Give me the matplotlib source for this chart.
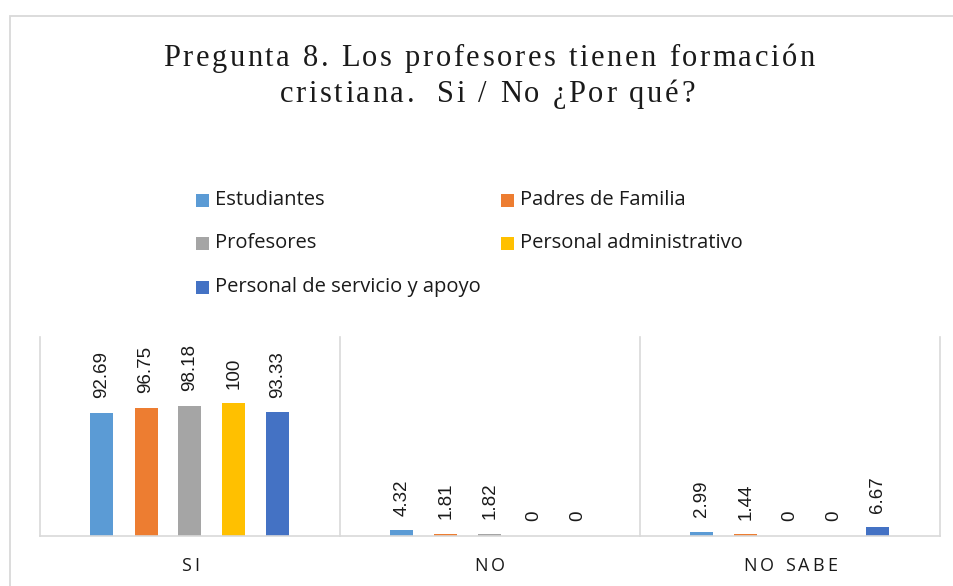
import matplotlib
matplotlib.use('Agg')
import matplotlib.pyplot as plt
from matplotlib.font_manager import FontProperties
from matplotlib.patches import Rectangle
import numpy as np

# ---------------- data ----------------
categories = ['SI', 'NO', 'NO SABE']
series_names = ['Estudiantes', 'Padres de Familia', 'Profesores',
                'Personal administrativo', 'Personal de servicio y apoyo']
estudiantes = [92.69, 4.32, 2.99]
padres = [96.75, 1.81, 1.44]
profesores = [98.18, 1.82, 0]
administrativo = [100, 0, 0]
servicio = [93.33, 0, 6.67]
series_values = [estudiantes, padres, profesores, administrativo, servicio]
colors = ['#5B9BD5', '#ED7D31', '#A5A5A5', '#FFC000', '#4472C4']
title_lines = ['Pregunta 8. Los profesores tienen formación',
               'cristiana.  Si / No ¿Por qué?']

W, H = 954, 586
fig = plt.figure(figsize=(W / 100, H / 100), dpi=100)
renderer = fig.canvas.get_renderer()

grid_col = '#D9D9D9'
text_col = '#1A1A1A'


def adv(c, prop):
    w1 = renderer.get_text_width_height_descent('|' + c + '|', prop, ismath=False)[0]
    w0 = renderer.get_text_width_height_descent('||', prop, ismath=False)[0]
    return w1 - w0


def tracked(xc, yb, text, prop, tracking, color):
    advs = [adv(c, prop) for c in text]
    total = sum(advs) + tracking * (len(text) - 1)
    x = xc - total / 2
    for c, a in zip(text, advs):
        if c != ' ':
            fig.text(x / W, 1 - yb / H, c, fontproperties=prop, ha='left',
                     va='baseline', color=color)
        x += a + tracking


# border
fig.add_artist(Rectangle((10 / W, -0.1), 1.2, 1 - 16 / H + 0.1, fill=False,
                         edgecolor=grid_col, lw=1.3, transform=fig.transFigure))

# title
tprop = FontProperties(family='Liberation Serif', size=22)
n1 = len(title_lines[0])
track = (652 - sum(adv(c, tprop) for c in title_lines[0])) / (n1 - 1)
tracked(489, 66, title_lines[0], tprop, track, text_col)
tracked(487, 102, title_lines[1], tprop, track, text_col)

# legend
lprop = FontProperties(family='Open Sans', size=14.5)
col_x = [196, 501]
row_y = [200, 243, 287]
for i, (name, c) in enumerate(zip(series_names, colors)):
    cx = col_x[i % 2]
    cy = row_y[i // 2]
    fig.add_artist(Rectangle((cx / W, 1 - (cy + 6.5) / H), 13 / W, 13 / H,
                             facecolor=c, edgecolor='none', transform=fig.transFigure))
    fig.text((cx + 19) / W, 1 - cy / H, name, fontproperties=lprop,
             ha='left', va='center', color=text_col)

# axes
ax = fig.add_axes([40 / W, 1 - 536 / H, 900 / W, 199 / H])
ax.set_xlim(-0.5, len(categories) - 0.5)
ax.set_ylim(0, 150)
for s in ['left', 'right', 'top']:
    ax.spines[s].set_visible(False)
ax.spines['bottom'].set_color(grid_col)
ax.spines['bottom'].set_linewidth(1.2)
ax.set_yticks([])
ax.set_xticks(range(len(categories)))
ax.set_xticklabels([])
ax.tick_params(axis='x', length=0)
for b in np.arange(-0.5, len(categories), 1.0):
    ax.axvline(b, color=grid_col, lw=1.2, clip_on=False, zorder=0)

slot = 44 / 300
bw = 23 / 300
x = np.arange(len(categories))
vprop = FontProperties(family='Liberation Sans', size=13.5)
for i, (vals, c) in enumerate(zip(series_values, colors)):
    xs = x + (i - 2) * slot
    ax.bar(xs, vals, bw, color=c, zorder=2)
    for xx, v in zip(xs, vals):
        ax.annotate(f'{v:g}', (xx, v), xytext=(0, 10.5), textcoords='offset points',
                    rotation=90, ha='center', va='bottom', fontproperties=vprop,
                    color=text_col)

# category labels
cprop = FontProperties(family='Open Sans', size=13)
ctrack = (94 - sum(adv(c, cprop) for c in 'NO SABE')) / 6
for i, cat in enumerate(categories):
    px = ax.transData.transform((i, 0))[0]
    tracked(px, 571, cat, cprop, ctrack, text_col)

fig.savefig('out.png', dpi=100)
